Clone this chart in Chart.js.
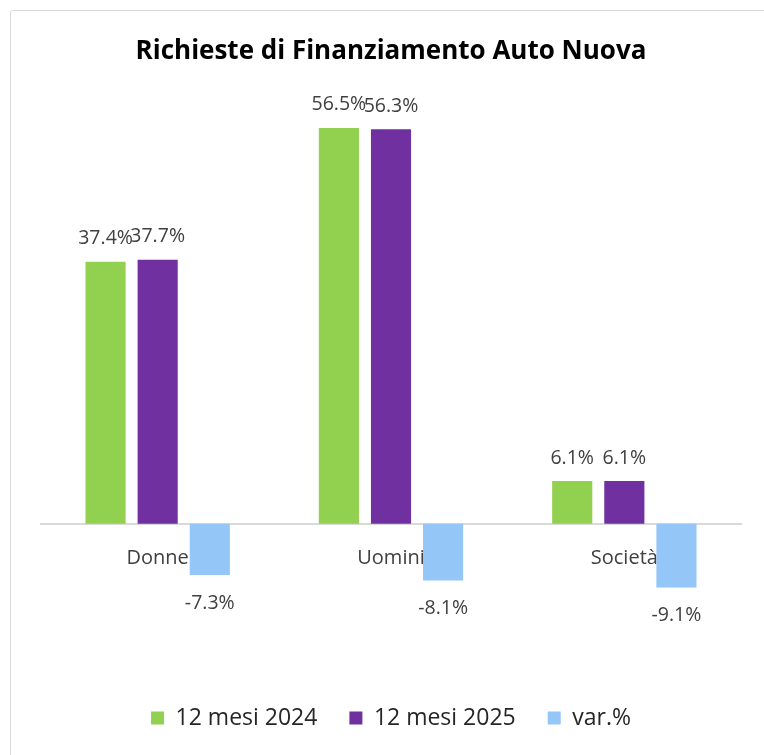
<!DOCTYPE html>
<html>
<head>
<meta charset="utf-8">
<script src="https://cdn.jsdelivr.net/npm/chart.js@4"></script>
<style>
  html, body { margin: 0; padding: 0; background: #fff; overflow: hidden; }
  .cornice {
    position: absolute; left: 10px; top: 10px; width: 800px; height: 800px;
    border: 1.5px solid #d9d9d9; border-radius: 3px; box-sizing: border-box;
  }
  #grafico { position: absolute; left: 0; top: 0; }
</style>
</head>
<body>
<div class="cornice"></div>
<canvas id="grafico" width="764" height="755"></canvas>
<script>
// dati
const categorie = ["Donne", "Uomini", "Società"];
const mesi2024 = [37.4, 56.5, 6.1];
const mesi2025 = [37.7, 56.3, 6.1];
const variazione = [-7.3, -8.1, -9.1];

Chart.defaults.font.family = "'Open Sans', 'Noto Sans', sans-serif";
Chart.defaults.color = "#404040";

// etichette con i valori sopra/sotto le barre
const etichetteValori = {
  id: "etichetteValori",
  afterDatasetsDraw(chart) {
    const ctx = chart.ctx;
    ctx.save();
    ctx.font = "19.5px 'Open Sans'";
    ctx.fillStyle = "#404040";
    ctx.textAlign = "center";
    ctx.textBaseline = "middle";
    chart.data.datasets.forEach((ds, i) => {
      chart.getDatasetMeta(i).data.forEach((bar, j) => {
        const v = ds.data[j];
        const y = v >= 0 ? bar.y - 23 : bar.y + 28;
        ctx.fillText(v.toFixed(1) + "%", bar.x, y);
      });
    });
    ctx.restore();
  }
};

new Chart(document.getElementById("grafico"), {
  type: "bar",
  data: {
    labels: categorie,
    datasets: [
      { label: "12 mesi 2024", data: mesi2024, backgroundColor: "#92d050" },
      { label: "12 mesi 2025", data: mesi2025, backgroundColor: "#7030a0" },
      { label: "var.%", data: variazione, backgroundColor: "#94c6f8" }
    ]
  },
  options: {
    responsive: false,
    animation: false,
    categoryPercentage: 0.67,
    barPercentage: 0.77,
    layout: { padding: { left: 41, right: 23, top: 0, bottom: 15.5 } },
    scales: {
      y: { display: false, min: -21.5, max: 60 },
      x: {
        position: { y: 0 },
        grid: { display: false },
        border: { display: true, color: "#d9d9d9", width: 2 },
        ticks: { padding: 14, color: "#404040", font: { size: 20 } }
      }
    },
    plugins: {
      title: {
        display: true,
        text: "Richieste di Finanziamento Auto Nuova",
        color: "#000",
        font: { size: 26, weight: "bold" },
        padding: { top: 36.4, bottom: 35.8 }
      },
      legend: {
        position: "bottom",
        labels: {
          boxWidth: 13, boxHeight: 13, padding: 32,
          color: "#262626", font: { size: 23 }
        }
      },
      tooltip: { enabled: false }
    }
  },
  plugins: [etichetteValori]
});
</script>
</body>
</html>
